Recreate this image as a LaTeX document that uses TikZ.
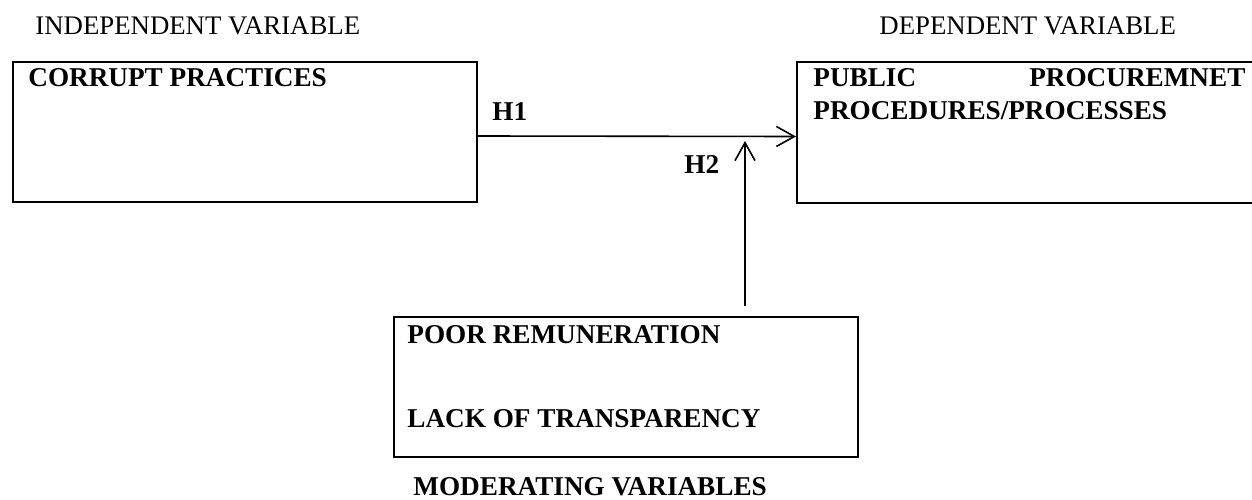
\documentclass[tikz,border=0pt]{standalone}
\usepackage{fontspec}
\setmainfont{Liberation Serif}
\usepackage{tikz}
\usetikzlibrary{
arrows.meta,
positioning,
calc
}

\tikzset{
  varbox/.style={draw, line width=1pt, minimum width=232pt, minimum height=70pt, inner sep=0pt},
  vartext/.style={inner sep=0pt, font=\fontsize{13.6}{16.5}\selectfont\bfseries},
  headtext/.style={inner sep=0pt, font=\fontsize{13.4}{16.5}\selectfont},
  hyp/.style={-{Straight Barb[length=9pt,width=10pt,line width=0.8pt]}, line width=0.8pt}
}

\begin{document}
\begin{tikzpicture}[x=0.5pt,y=0.5pt]
  \clip (0,0) rectangle (1252,499);
  % boxes
  \node[varbox] (cp) at (245,367) {};
  \node[varbox] (pp) at (1029,366.5) {};
  \node[varbox] (mv) at (625.5,112) {};
  % headings
  \node[headtext, anchor=base west] (iv) at (35,464) {INDEPENDENT VARIABLE};
  \node[headtext, anchor=base west] (dv) at (879,464) {DEPENDENT VARIABLE};
  \node[vartext, anchor=base west] (mvl) at (413,4) {MODERATING VARIABLES};
  % box texts
  \node[vartext, anchor=base west] (cpt) at (28,412) {CORRUPT PRACTICES};
  \node[vartext, anchor=base west, text width=216pt, align=left] (ppt) at (813,412)
    {PUBLIC\hfill PROCUREMNET\\PROCEDURES/PROCESSES};
  \node[vartext, anchor=base west] (mva) at (407,156) {POOR REMUNERATION};
  \node[vartext, anchor=base west] (mvb) at (407,72) {LACK OF TRANSPARENCY};
  % hypotheses
  \coordinate (hit) at (745,358);
  \draw[hyp] ([yshift=-2pt]cp.east) -- ([yshift=-2pt]pp.west);
  \draw[hyp, shorten <=5pt] (mv.north -| hit) -- (hit);
  \node[vartext, anchor=base west] (h1) at (492,379) {H1};
  \node[vartext, anchor=base west] (h2) at (684,326) {H2};
\end{tikzpicture}
\end{document}
